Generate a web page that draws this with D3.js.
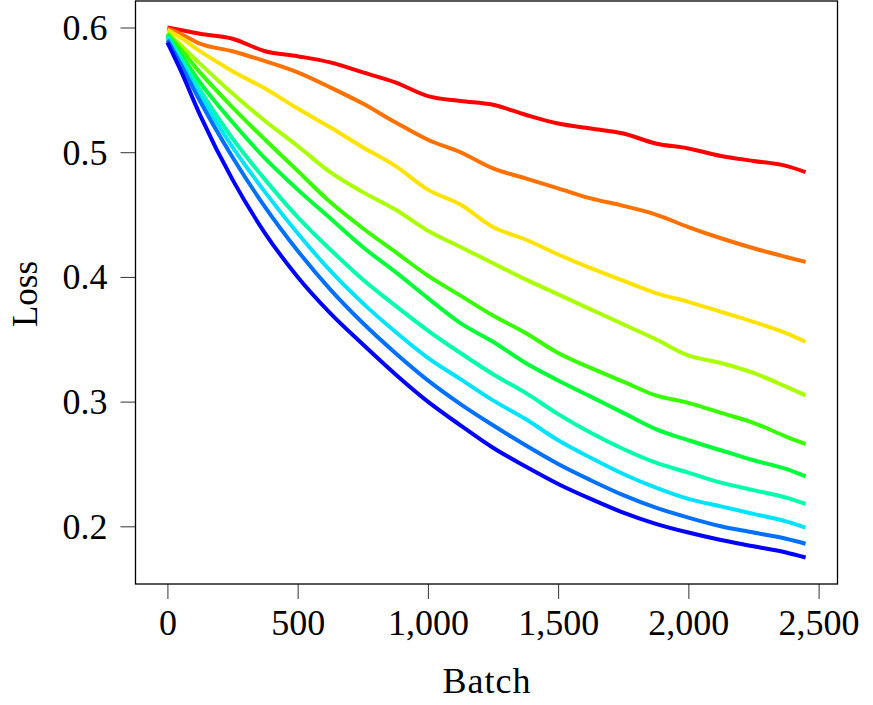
<!DOCTYPE html>
<html>
<head>
<meta charset="utf-8">
<script src="https://cdn.jsdelivr.net/npm/d3@7/dist/d3.min.js"></script>
<style>
  html, body { margin: 0; padding: 0; background: #fff; }
  svg { display: block; }
  text { font-family: "Liberation Serif", "DejaVu Serif", serif; fill: #000; }
</style>
</head>
<body>
<svg id="chart" width="873" height="705"></svg>
<script>
// ---- data ----
const batches = [0, 50, 125, 250, 375, 500, 625, 750, 875, 1000, 1125, 1250, 1375, 1500, 1625, 1750, 1875, 2000, 2125, 2250, 2375, 2450];

const lossRed    = [0.600, 0.598, 0.595, 0.591, 0.581, 0.577, 0.572, 0.564, 0.556, 0.545, 0.541, 0.538, 0.530, 0.523, 0.519, 0.515, 0.507, 0.503, 0.497, 0.493, 0.489, 0.484];
const lossOrange = [0.599, 0.595, 0.587, 0.581, 0.573, 0.564, 0.552, 0.539, 0.524, 0.510, 0.500, 0.487, 0.479, 0.471, 0.463, 0.457, 0.450, 0.440, 0.431, 0.423, 0.416, 0.412];
const lossGold   = [0.598, 0.592, 0.581, 0.565, 0.551, 0.535, 0.520, 0.504, 0.489, 0.470, 0.458, 0.440, 0.430, 0.418, 0.407, 0.397, 0.387, 0.380, 0.372, 0.364, 0.355, 0.348];
const lossLime   = [0.596, 0.586, 0.571, 0.547, 0.525, 0.505, 0.484, 0.468, 0.454, 0.437, 0.424, 0.411, 0.398, 0.386, 0.374, 0.362, 0.350, 0.337, 0.331, 0.323, 0.312, 0.305];
const lossGreen  = [0.595, 0.583, 0.564, 0.536, 0.510, 0.485, 0.460, 0.439, 0.420, 0.401, 0.385, 0.369, 0.355, 0.339, 0.327, 0.316, 0.305, 0.299, 0.291, 0.283, 0.272, 0.266];
const lossGreen2 = [0.594, 0.579, 0.556, 0.524, 0.495, 0.470, 0.447, 0.424, 0.404, 0.383, 0.363, 0.348, 0.331, 0.317, 0.304, 0.291, 0.278, 0.269, 0.261, 0.253, 0.246, 0.240];
const lossTeal   = [0.593, 0.576, 0.550, 0.511, 0.478, 0.448, 0.422, 0.398, 0.377, 0.357, 0.339, 0.322, 0.307, 0.290, 0.275, 0.262, 0.251, 0.243, 0.235, 0.229, 0.223, 0.218];
const lossCyan   = [0.592, 0.574, 0.546, 0.504, 0.468, 0.435, 0.405, 0.379, 0.356, 0.335, 0.318, 0.301, 0.286, 0.269, 0.255, 0.242, 0.231, 0.222, 0.216, 0.210, 0.204, 0.199];
const lossAzure  = [0.590, 0.571, 0.541, 0.496, 0.456, 0.421, 0.390, 0.363, 0.339, 0.317, 0.298, 0.281, 0.265, 0.250, 0.237, 0.225, 0.215, 0.207, 0.200, 0.195, 0.190, 0.186];
const lossBlue   = [0.588, 0.566, 0.530, 0.478, 0.435, 0.400, 0.371, 0.346, 0.322, 0.300, 0.281, 0.263, 0.248, 0.234, 0.222, 0.211, 0.202, 0.195, 0.189, 0.184, 0.179, 0.175];

const seriesValues = [lossRed, lossOrange, lossGold, lossLime, lossGreen, lossGreen2, lossTeal, lossCyan, lossAzure, lossBlue];
const seriesColors = ["#ff0000", "#ff7100", "#ffe300", "#aaff00", "#38ff00", "#00ff38", "#00ffaa", "#00e3ff", "#0071ff", "#0000ff"];

const xTicks = [0, 500, 1000, 1500, 2000, 2500];
const yTicks = [0.2, 0.3, 0.4, 0.5, 0.6];
const xLabel = "Batch";
const yLabel = "Loss";

// ---- layout ----
const svg = d3.select("#chart");
const plot = { left: 135.5, right: 837.5, top: 1, bottom: 584 };

const x = d3.scaleLinear().domain([-122.5, 2572.5]).range([plot.left, plot.right]);
const y = d3.scaleLinear().domain([0.15375, 0.62125]).range([plot.bottom, plot.top]);

const fmtX = v => d3.format(",")(v);
const fmtY = v => d3.format(".1f")(v);

// clip
svg.append("defs").append("clipPath").attr("id", "clip")
  .append("rect")
  .attr("x", plot.left).attr("y", plot.top)
  .attr("width", plot.right - plot.left).attr("height", plot.bottom - plot.top);

// lines
const line = d3.line()
  .x((d, i) => x(batches[i]))
  .y(d => y(d))
  .curve(d3.curveMonotoneX);

svg.append("g").attr("clip-path", "url(#clip)")
  .selectAll("path")
  .data(seriesValues)
  .join("path")
  .attr("d", d => line(d))
  .attr("fill", "none")
  .attr("stroke", (d, i) => seriesColors[i])
  .attr("stroke-width", 4)
  .attr("stroke-linejoin", "round")
  .attr("stroke-linecap", "butt");

// axes
const xAxis = d3.axisBottom(x).tickValues(xTicks).tickFormat(fmtX).tickSizeInner(15).tickSizeOuter(0).tickPadding(8);
const yAxis = d3.axisLeft(y).tickValues(yTicks).tickFormat(fmtY).tickSizeInner(15).tickSizeOuter(0).tickPadding(12);

const gx = svg.append("g").attr("transform", `translate(0,${plot.bottom})`).call(xAxis);
const gy = svg.append("g").attr("transform", `translate(${plot.left},0)`).call(yAxis);

[gx, gy].forEach(g => {
  g.select(".domain").remove();
  g.selectAll(".tick line").attr("stroke", "#333").attr("stroke-width", 1);
  g.selectAll(".tick text")
    .style("font-family", "'Liberation Serif', 'DejaVu Serif', serif")
    .style("font-size", "36px")
    .attr("fill", "#000");
});
gx.selectAll(".tick text").attr("dy", null).attr("y", 51);
gy.selectAll(".tick text").attr("dy", null).attr("y", 12).attr("x", -28);

// frame
svg.append("rect")
  .attr("x", plot.left).attr("y", plot.top)
  .attr("width", plot.right - plot.left).attr("height", plot.bottom - plot.top)
  .attr("fill", "none").attr("stroke", "#000").attr("stroke-width", 1.3);

// axis labels
svg.append("text")
  .attr("x", (x(0) + x(2500)) / 2 - 6)
  .attr("y", 693)
  .attr("text-anchor", "middle")
  .style("font-size", "36px")
  .style("letter-spacing", "1px")
  .text(xLabel);

svg.append("text")
  .attr("transform", `translate(37,294) rotate(-90)`)
  .attr("text-anchor", "middle")
  .style("font-size", "35px")
  .text(yLabel);
</script>
</body>
</html>
